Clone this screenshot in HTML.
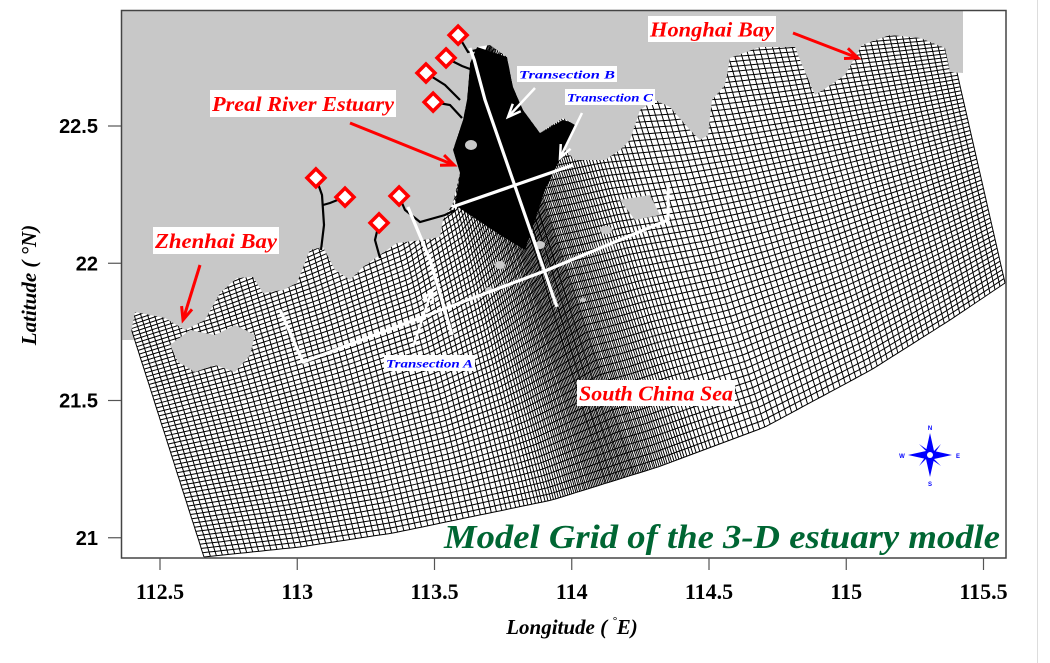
<!DOCTYPE html>
<html><head><meta charset="utf-8"><style>
html,body{margin:0;padding:0;background:#fff;}
svg{display:block;font-family:"Liberation Serif",serif;}
</style></head><body>
<svg id="map" width="1050" height="663" viewBox="0 0 1050 663" xmlns="http://www.w3.org/2000/svg">
<rect x="0" y="0" width="1050" height="663" fill="#fff"/>
<line x1="1037.5" y1="0" x2="1037.5" y2="663" stroke="#ddd" stroke-width="1"/>
<rect x="122" y="290" width="14" height="50" fill="#c8c8c8"/>
<g id="grid"></g>
<g id="land"></g>
<g id="over"></g>
<rect x="121.5" y="10.5" width="884.5" height="547.5" fill="none" stroke="#444" stroke-width="1.5"/>
<g id="axes"></g>
<text x="572" y="634" text-anchor="middle" font-size="21" font-weight="bold" font-style="italic">Longitude ( <tspan font-size="11" dy="-10">°</tspan><tspan dy="10">E)</tspan></text>
<text transform="translate(36,285) rotate(-90)" text-anchor="middle" font-size="21" font-weight="bold" font-style="italic">Latitude ( °N)</text>
<text x="444" y="548" font-size="34" font-weight="bold" font-style="italic" fill="#006633" textLength="556" lengthAdjust="spacingAndGlyphs">Model Grid of the 3-D estuary modle</text>
</svg>
<script>
// ---- axis data ----
const xTicks = [112.5, 113, 113.5, 114, 114.5, 115, 115.5];
const xTickLabels = ["112.5","113","113.5","114","114.5","115","115.5"];
const yTicks = [22.5, 22, 21.5, 21];
const yTickLabels = ["22.5","22","21.5","21"];
// station markers (lon, lat)
const stationLon = [113.586,113.542,113.469,113.495,113.068,113.174,113.371,113.298];
const stationLat = [22.831,22.748,22.693,22.587,22.311,22.241,22.245,22.147];
// transects (lon/lat polylines)
const transectB = [[113.629,22.784],[113.645,22.74],[113.684,22.595],[113.946,21.841]];
const transectC = [[113.564,22.205],[114.005,22.358]];
const transectLong = [[112.937,21.830],[113.021,21.640],[113.910,21.975],[114.351,22.158],[114.351,22.285]];
const transectA = [[113.403,22.205],[113.484,22.012],[113.564,21.739]];

const X0=160, LON0=112.5, Y0=126, LAT0=22.5, K=274.5;
function sx(lon){return X0+(lon-LON0)*K;}
function sy(lat){return Y0-(lat-LAT0)*K;}
const NS="http://www.w3.org/2000/svg";
function mk(tag,attrs,parent){const e=document.createElementNS(NS,tag);for(const k in attrs)e.setAttribute(k,attrs[k]);parent.appendChild(e);return e;}
const axes=document.getElementById('axes'), grid=document.getElementById('grid'), land=document.getElementById('land'), over=document.getElementById('over');

xTicks.forEach((v,i)=>{
  const l=mk('line',{x1:sx(v),x2:sx(v),y1:558,y2:570,stroke:'#555','stroke-width':1.2},axes);
  
  
  const t=mk('text',{x:sx(v),y:599,'text-anchor':'middle','font-size':22,'font-weight':'bold'},axes);
  t.textContent=xTickLabels[i];
  
  
});
yTicks.forEach((v,i)=>{
  const l=mk('line',{x1:108,x2:121,y1:sy(v),y2:sy(v),stroke:'#555','stroke-width':1.2},axes);
  
  
  const t=mk('text',{x:98,y:sy(v)+7,'text-anchor':'end','font-size':20,'font-weight':'bold','font-family':'Liberation Sans, sans-serif'},axes);
  t.textContent=yTickLabels[i];
  
  
});

// ---- curvilinear grid geometry ----
const topCurve=[[122,300],[200,272],[300,232],[390,190],[440,145],[470,90],[490,40],[560,30],[700,32],[850,25],[945,20]];
const botCurve=[[204,557],[300,547],[393,533],[552,500],[658,467],[765,427],[871,370],[950,320],[1005,283]];
function arc(pts){const c=[0];for(let i=1;i<pts.length;i++)c.push(c[i-1]+Math.hypot(pts[i][0]-pts[i-1][0],pts[i][1]-pts[i-1][1]));const L=c[c.length-1];
 return t=>{const d=t*L;let i=1;while(i<c.length-1&&c[i]<d)i++;const f=(d-c[i-1])/(c[i]-c[i-1]||1);return [pts[i-1][0]+f*(pts[i][0]-pts[i-1][0]),pts[i-1][1]+f*(pts[i][1]-pts[i-1][1])];};}
const T=arc(topCurve),B=arc(botCurve);
function P(u,v){const a=T(u),b=B(u);return [a[0]+(b[0]-a[0])*v,a[1]+(b[1]-a[1])*v];}
const NU=200, M=2000; const cum=[0];
for(let i=1;i<=M;i++){const u=i/M;cum.push(cum[i-1]+1+2.8*Math.exp(-Math.pow((u-0.49)/0.085,2)));}
const us=[];for(let k=0;k<=NU;k++){const tgt=k/NU*cum[M];let i=0;while(i<M&&cum[i]<tgt)i++;us.push(i/M);}
const NV=66; const vs=[];for(let k=0;k<=NV;k++)vs.push(Math.pow(k/NV,1.1));
let d1='';us.forEach(u=>{let s='';for(let j=0;j<=40;j++){const p=P(u,j/40);s+=(j?'L':'M')+p[0].toFixed(1)+' '+p[1].toFixed(1);}d1+=s;});
let d2='';vs.forEach(v=>{let s='';for(let j=0;j<=120;j++){const p=P(j/120,v);s+=(j?'L':'M')+p[0].toFixed(1)+' '+p[1].toFixed(1);}d2+=s;});
let outline='';for(let j=0;j<=120;j++){const p=P(j/120,0);outline+=(j?'L':'M')+p[0]+' '+p[1];}for(let j=120;j>=0;j--){const p=P(j/120,1);outline+='L'+p[0]+' '+p[1];}
const gbg=mk('path',{d:outline+'Z',fill:'#fff'},grid);


const gu=mk('path',{d:d1,fill:'none',stroke:'#000','stroke-width':1},grid);


const gv=mk('path',{d:d2,fill:'none',stroke:'#000','stroke-width':1},grid);


const est=mk('path',{d:'M477,47 L507,57 L513,87 L523,110 L540,133 L563,120 L580,125 L567,150 L557,165 L545,190 L535,220 L525,250 L500,235 L470,215 L455,205 L460,173 L453,150 L463,120 L467,100 L470,63 Z',fill:'#000'},grid);



// ---- land ----
const coast=[[950,72],[945,48],[920,38],[890,35],[862,45],[845,75],[826,88],[815,95],[800,60],[795,47],[760,47],[730,58],[725,85],[712,100],[708,135],[700,140],[690,130],[670,107],[655,100],[640,110],[630,140],[620,150],[605,160],[590,160],[575,160],[565,150],[575,125],[563,118],[540,133],[523,110],[513,87],[507,57],[490,45],[477,47],[470,63],[467,100],[463,120],[453,150],[460,173],[453,203],[443,220],[440,237],[423,240],[397,243],[377,257],[363,267],[350,280],[335,270],[323,247],[310,250],[297,283],[283,290],[263,293],[253,277],[237,278],[220,293],[205,320],[185,330],[165,318],[135,312],[130,338],[122,338]];
let ld='M122,10 L963,10 L963,73 ';coast.forEach(p=>ld+='L'+p[0]+','+p[1]+' ');ld+='Z';
const lp=mk('path',{d:ld,fill:'#c8c8c8'},land);


const islands=['M170,345 L190,330 L215,335 L235,325 L255,335 L250,355 L235,372 L215,365 L195,372 L178,362 Z','M465,145 a6,5 0 1,0 12,0 a6,5 0 1,0 -12,0','M495,265 a5,4 0 1,0 10,0 a5,4 0 1,0 -10,0','M535,245 a5,4 0 1,0 10,0 a5,4 0 1,0 -10,0','M485,290 a4,3 0 1,0 8,0 a4,3 0 1,0 -8,0','M600,230 a6,4 0 1,0 12,0 a6,4 0 1,0 -12,0','M620,200 L650,195 L660,215 L635,220 Z','M580,300 a3,2 0 1,0 6,0 a3,2 0 1,0 -6,0'];
islands.forEach(d=>{const e=mk('path',{d:d,fill:'#c8c8c8'},land);
 
 });
const rivers=['M316,178 L322,195 L324,225 L321,250','M345,197 L330,203 L323,205','M379,223 L375,240 L380,258','M399,196 L405,210 L420,222 L445,215 L455,210','M458,35 L468,52 L477,50','M446,58 L462,66 L478,72','M426,73 L445,85 L460,100','M433,102 L450,105 L462,118'];
rivers.forEach(d=>{const e=mk('path',{d:d,fill:'none',stroke:'#000','stroke-width':2.2},land);
 
 });

// ---- transects ----
function pl(arr){return arr.map((p,i)=>(i?'L':'M')+sx(p[0]).toFixed(1)+','+sy(p[1]).toFixed(1)).join(' ');}
[['transection-b-line',transectB],['transection-c-line',transectC],['transection-long-line',transectLong],['transection-a-line',transectA]].forEach(([n,a])=>{
 const e=mk('path',{d:pl(a),fill:'none',stroke:'#fff','stroke-width':3.2,'stroke-linejoin':'round'},over);
 
 
});
stationLon.forEach((lo,i)=>{const x=sx(lo),y=sy(stationLat[i]);
 const e=mk('path',{d:`M${x},${y-9} L${x+9},${y} L${x},${y+9} L${x-9},${y} Z`,fill:'#fff',stroke:'#f00','stroke-width':3.5},over);
 
 });

function arrow(x1,y1,x2,y2,col,w,name){
 const g=mk('g',{},over);
 
 
 mk('line',{x1:x1,y1:y1,x2:x2,y2:y2,stroke:col,'stroke-width':w},g);
 const a=Math.atan2(y2-y1,x2-x1),h=14;
 mk('path',{d:`M${x2-h*Math.cos(a-0.4)},${y2-h*Math.sin(a-0.4)} L${x2},${y2} L${x2-h*Math.cos(a+0.4)},${y2-h*Math.sin(a+0.4)}`,fill:'none',stroke:col,'stroke-width':w},g);}
arrow(350,123,454,165,'#f00',3,'estuary-arrow');
arrow(793,33,858,58,'#f00',3,'honghai-arrow');
arrow(200,265,183,320,'#f00',3,'zhenhai-arrow');
arrow(535,88,508,117,'#fff',2.5,'transection-b-arrow');
arrow(582,113,560,158,'#fff',2.5,'transection-c-arrow');
arrow(413,347,432,290,'#fff',2.5,'transection-a-arrow');

function label(x,y,w,h,txt,size,col,name){
 const g=mk('g',{},over);
 
 
 mk('rect',{x:x,y:y,width:w,height:h,fill:'#fff'},g);
 const t=mk('text',{x:x+2,y:y+h*0.78,'font-size':size,'font-weight':'bold','font-style':'italic',fill:col,textLength:w-4,lengthAdjust:'spacingAndGlyphs'},g);
 t.textContent=txt;}
label(210,90,186,27,'Preal River Estuary',21,'#f00','label-pearl-river-estuary');
label(648,16,128,26,'Honghai Bay',21,'#f00','label-honghai-bay');
label(153,227,126,27,'Zhenhai Bay',21,'#f00','label-zhenhai-bay');
label(577,380,158,26,'South China Sea',21,'#f00','label-south-china-sea');
label(517,66,100,16,'Transection B',12,'#00f','label-transection-b');
label(565,89,90,16,'Transection C',12,'#00f','label-transection-c');
label(384,355,91,16,'Transection A',12,'#00f','label-transection-a');

const cg=mk('g',{},over);


const cx=930,cy=455;
mk('path',{d:`M${cx},${cy-22} L${cx+4},${cy-4} L${cx+22},${cy} L${cx+4},${cy+4} L${cx},${cy+22} L${cx-4},${cy+4} L${cx-22},${cy} L${cx-4},${cy-4} Z`,fill:'#00f'},cg);
mk('path',{d:`M${cx-11},${cy-11} L${cx+2},${cy-2} L${cx+11},${cy-11} L${cx+2},${cy+2} L${cx+11},${cy+11} L${cx-2},${cy+2} L${cx-11},${cy+11} L${cx-2},${cy-2} Z`,fill:'#00f'},cg);
mk('circle',{cx:cx,cy:cy,r:3,fill:'#fff'},cg);
[['N',cx,cy-25],['S',cx,cy+31],['W',cx-28,cy+3],['E',cx+28,cy+3]].forEach(([s,x,y])=>{const t=mk('text',{x:x,y:y,'font-size':6,'font-weight':'bold',fill:'#00f','text-anchor':'middle','font-family':'Liberation Sans, sans-serif'},cg);t.textContent=s;});
</script>
</body></html>
